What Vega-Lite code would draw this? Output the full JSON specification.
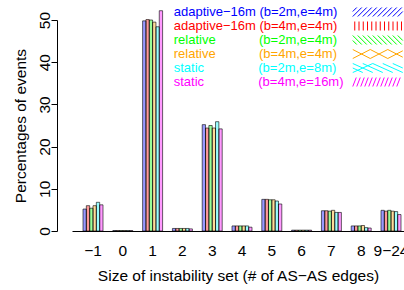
{
  "$schema": "https://vega.github.io/schema/vega-lite/v6.json",
  "width": 332,
  "height": 211,
  "autosize": {"type": "none"},
  "padding": {"left": 72, "top": 20, "right": 0, "bottom": 59},
  "background": "white",
  "config": {"view": {"stroke": null}, "font": "Liberation Sans", "legend": {"rowPadding": -2.7}},
  "data": {"values": [
    {"size": "−1", "s": "A", "pct": 5.2}, {"size": "0", "s": "A", "pct": 0.1}, {"size": "1", "s": "A", "pct": 49.8}, {"size": "2", "s": "A", "pct": 0.6}, {"size": "3", "s": "A", "pct": 25.2}, {"size": "4", "s": "A", "pct": 1.2}, {"size": "5", "s": "A", "pct": 7.5}, {"size": "6", "s": "A", "pct": 0.2}, {"size": "7", "s": "A", "pct": 4.8}, {"size": "8", "s": "A", "pct": 1.2}, {"size": "9−24", "s": "A", "pct": 4.9},
    {"size": "−1", "s": "B", "pct": 6.0}, {"size": "0", "s": "B", "pct": 0.1}, {"size": "1", "s": "B", "pct": 50.1}, {"size": "2", "s": "B", "pct": 0.6}, {"size": "3", "s": "B", "pct": 24.4}, {"size": "4", "s": "B", "pct": 1.2}, {"size": "5", "s": "B", "pct": 7.5}, {"size": "6", "s": "B", "pct": 0.2}, {"size": "7", "s": "B", "pct": 4.8}, {"size": "8", "s": "B", "pct": 1.2}, {"size": "9−24", "s": "B", "pct": 4.7},
    {"size": "−1", "s": "C", "pct": 5.4}, {"size": "0", "s": "C", "pct": 0.1}, {"size": "1", "s": "C", "pct": 50.0}, {"size": "2", "s": "C", "pct": 0.6}, {"size": "3", "s": "C", "pct": 25.0}, {"size": "4", "s": "C", "pct": 1.2}, {"size": "5", "s": "C", "pct": 7.4}, {"size": "6", "s": "C", "pct": 0.2}, {"size": "7", "s": "C", "pct": 4.7}, {"size": "8", "s": "C", "pct": 1.2}, {"size": "9−24", "s": "C", "pct": 4.9},
    {"size": "−1", "s": "D", "pct": 6.0}, {"size": "0", "s": "D", "pct": 0.1}, {"size": "1", "s": "D", "pct": 49.5}, {"size": "2", "s": "D", "pct": 0.6}, {"size": "3", "s": "D", "pct": 24.4}, {"size": "4", "s": "D", "pct": 1.2}, {"size": "5", "s": "D", "pct": 7.4}, {"size": "6", "s": "D", "pct": 0.2}, {"size": "7", "s": "D", "pct": 4.9}, {"size": "8", "s": "D", "pct": 1.3}, {"size": "9−24", "s": "D", "pct": 4.7},
    {"size": "−1", "s": "E", "pct": 6.8}, {"size": "0", "s": "E", "pct": 0.1}, {"size": "1", "s": "E", "pct": 48.4}, {"size": "2", "s": "E", "pct": 0.6}, {"size": "3", "s": "E", "pct": 25.9}, {"size": "4", "s": "E", "pct": 1.2}, {"size": "5", "s": "E", "pct": 7.1}, {"size": "6", "s": "E", "pct": 0.2}, {"size": "7", "s": "E", "pct": 4.4}, {"size": "8", "s": "E", "pct": 0.8}, {"size": "9−24", "s": "E", "pct": 4.6},
    {"size": "−1", "s": "F", "pct": 6.2}, {"size": "0", "s": "F", "pct": 0.1}, {"size": "1", "s": "F", "pct": 52.2}, {"size": "2", "s": "F", "pct": 0.5}, {"size": "3", "s": "F", "pct": 24.2}, {"size": "4", "s": "F", "pct": 0.9}, {"size": "5", "s": "F", "pct": 6.4}, {"size": "6", "s": "F", "pct": 0.2}, {"size": "7", "s": "F", "pct": 4.4}, {"size": "8", "s": "F", "pct": 0.7}, {"size": "9−24", "s": "F", "pct": 3.9}
  ]},
  "encoding": {
    "x": {
      "field": "size", "type": "nominal",
      "sort": ["−1", "0", "1", "2", "3", "4", "5", "6", "7", "8", "9−24"],
      "scale": {"paddingInner": 0.329, "paddingOuter": 0.235, "align": 0.786},
      "title": "Size of instability set (# of AS−AS edges)",
      "axis": {"ticks": false, "domain": true, "domainColor": "black", "domainWidth": 1, "labelAngle": 0, "labelFontSize": 15.5, "labelColor": "black", "labelPadding": 12, "titleFontSize": 15.5, "titleFontWeight": "normal", "titleColor": "black", "titlePadding": 10}
    },
    "xOffset": {"field": "s", "type": "nominal", "sort": ["A", "B", "C", "D", "E", "F"], "scale": {"paddingInner": 0, "paddingOuter": 0}},
    "y": {
      "field": "pct", "type": "quantitative",
      "scale": {"domain": [0, 50], "nice": false},
      "title": "Percentages of events",
      "axis": {"values": [0, 10, 20, 30, 40, 50], "grid": false, "offset": 15, "domainColor": "black", "tickColor": "black", "tickSize": 6, "labelAngle": 270, "labelAlign": "center", "labelBaseline": "alphabetic", "labelPadding": 2, "labelFontSize": 15.5, "labelColor": "black", "titleFontSize": 15.5, "titleFontWeight": "normal", "titleColor": "black", "titlePadding": 9}
    }
  },
  "layer": [
    {
      "mark": {"type": "bar", "fillOpacity": 0.4, "strokeWidth": 0},
      "encoding": {
        "color": {
          "field": "s", "type": "nominal",
          "scale": {"domain": ["A", "B", "C", "D", "E", "F"], "range": ["#0000FF", "#FF0000", "#00FF00", "#FFA500", "#00FFFF", "#FF00FF"]},
          "legend": {
            "orient": "none", "legendX": 83.5, "legendY": -14.5, "title": null, "padding": 0,
            "symbolSize": 100, "symbolStrokeWidth": 1, "symbolOffset": 215.75, "labelOffset": -210.5,
            "labelFontSize": 13, "labelLimit": 400,
            "labelColor": {"expr": "scale('color', datum.value)"},
            "symbolStrokeColor": {"expr": "scale('color', datum.value)"},
            "symbolType": {"expr": "datum.value=='A' ? 'M-5 .9L-3.2 -.9M-4 .9L-2.2 -.9M-3 .9L-1.2 -.9M-2 .9L-.2 -.9M-1 .9L.8 -.9M0 .9L1.8 -.9M1 .9L2.8 -.9M2 .9L3.8 -.9M3 .9L4.8 -.9M-5 -.1L-4.2 -.9M4 .9L5 -.1' : datum.value=='B' ? 'M-4.6 -.9L-4.6 .9M-3.75 -.9L-3.75 .9M-2.9 -.9L-2.9 .9M-2.05 -.9L-2.05 .9M-1.2 -.9L-1.2 .9M-.35 -.9L-.35 .9M.5 -.9L.5 .9M1.35 -.9L1.35 .9M2.2 -.9L2.2 .9M3.05 -.9L3.05 .9M3.9 -.9L3.9 .9M4.75 -.9L4.75 .9' : datum.value=='C' ? 'M-5 -.9L-3.2 .9M-4 -.9L-2.2 .9M-3 -.9L-1.2 .9M-2 -.9L-.2 .9M-1 -.9L.8 .9M0 -.9L1.8 .9M1 -.9L2.8 .9M2 -.9L3.8 .9M3 -.9L4.8 .9M-5 .1L-4.2 .9M4 -.9L5 .1' : datum.value=='D' ? 'M-5 -.9L-1.5 .9M-1.5 .9L2 -.9M2 -.9L5 .64M-5 .9L-1.5 -.9M-1.5 -.9L2 .9M2 .9L5 -.64' : datum.value=='E' ? 'M-5 -.9L-1 .9M-3 -.9L1 .9M-1 -.9L3 .9M1 -.9L5 .9M3 -.9L5 0M-5 0L-3 .9M-5 .9L-1 -.9' : 'M-5 .9L-4.3 -.9M-4.2 .9L-3.5 -.9M-3.4 .9L-2.7 -.9M-2.6 .9L-1.9 -.9M-1.8 .9L-1.1 -.9M-1 .9L-.3 -.9M-.2 .9L.5 -.9M.6 .9L1.3 -.9M1.4 .9L2.1 -.9M2.2 .9L2.9 -.9M3 .9L3.7 -.9M3.8 .9L4.5 -.9'"},
            "labelExpr": "datum.value=='A' ? 'adaptive−16m (b=2m,e=4m)' : datum.value=='B' ? 'adaptive−16m (b=4m,e=4m)' : datum.value=='C' ? 'relative\u00a0\u00a0\u00a0\u00a0\u00a0\u00a0\u00a0\u00a0\u00a0\u00a0\u00a0\u00a0(b=2m,e=4m)' : datum.value=='D' ? 'relative\u00a0\u00a0\u00a0\u00a0\u00a0\u00a0\u00a0\u00a0\u00a0\u00a0\u00a0\u00a0(b=4m,e=4m)' : datum.value=='E' ? 'static\u00a0\u00a0\u00a0\u00a0\u00a0\u00a0\u00a0\u00a0\u00a0\u00a0\u00a0\u00a0\u00a0\u00a0\u00a0(b=2m,e=8m)' : 'static\u00a0\u00a0\u00a0\u00a0\u00a0\u00a0\u00a0\u00a0\u00a0\u00a0\u00a0\u00a0\u00a0\u00a0\u00a0(b=4m,e=16m)'"
          }
        }
      }
    },
    {
      "mark": {"type": "bar", "fill": "transparent", "stroke": "black", "strokeWidth": 0.6}
    }
  ]
}
